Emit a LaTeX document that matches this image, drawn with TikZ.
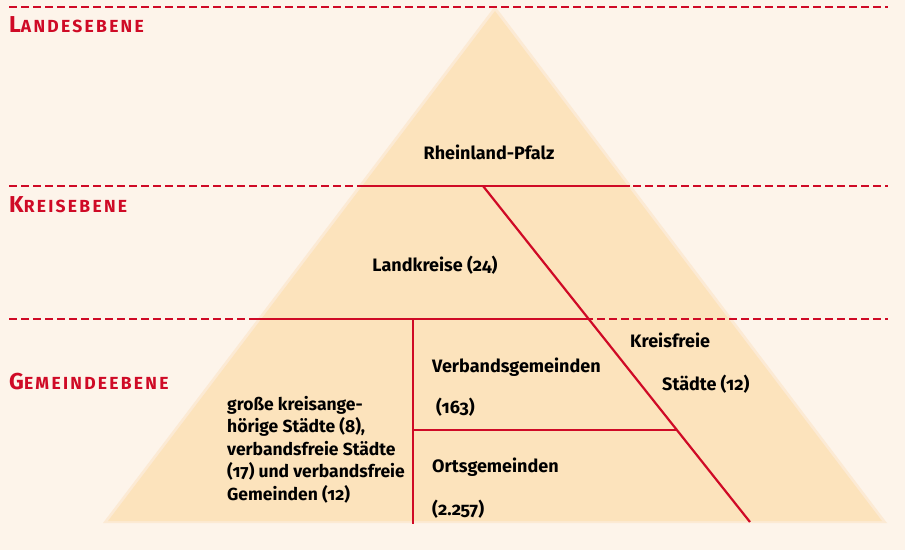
\documentclass[tikz,border=0pt]{standalone}
\usepackage{fontspec}
\setmainfont{Fira Sans}[Numbers=OldStyle]
\newfontfamily\headfont{Fira Sans}[LetterSpace=13]
\definecolor{bgc}{HTML}{FDF4EA}
\definecolor{pyr}{HTML}{FCE3BC}
\definecolor{pyrglow}{HTML}{FCEAD4}
\definecolor{redc}{HTML}{CF0A26}
\newcommand{\fakesc}[2]{{\headfont\bfseries\fontsize{23}{25}\selectfont #1}{\headfont\bfseries\fontsize{17.5}{20}\selectfont #2}}
\begin{document}
\begin{tikzpicture}[x=1pt,y=-1pt,
  dashline/.style={draw=redc,line width=2.2pt,dash pattern=on 8pt off 4pt},
  solidline/.style={draw=redc,line width=2.2pt},
  heading/.style={anchor=base west,inner sep=0pt,text=redc},
  lbl/.style={inner sep=0pt,font=\fontsize{18}{22.5}\selectfont\bfseries,text=black},
  lblw/.style={lbl,anchor=base west}]
\fill[bgc] (0,0) rectangle (905,550);
\useasboundingbox (0,0) rectangle (905,550);
% pyramid
\fill[pyrglow] (495,6) -- (887,523) -- (103,523) -- cycle;
\fill[pyr] (495,11) -- (882,521) -- (108,521) -- cycle;
% dashed level lines
\coordinate (d1l) at (9,7);   \coordinate (d1r) at (888,7);
\coordinate (d2l) at (9,186); \coordinate (d2r) at (888,186);
\coordinate (d3l) at (9,319); \coordinate (d3r) at (888,319);
\draw[dashline] (d1l) -- (d1r);
\draw[dashline] (d2l) -- (d2r);
\draw[dashline] (d3l) -- (d3r);
% solid dividers
\coordinate (s2l) at (357,186); \coordinate (s2r) at (630,186);
\coordinate (s3l) at (250,319);
\coordinate (dtop) at (483,186); \coordinate (dbot) at (750,522);
\coordinate (dmid) at (588.7,319);
\coordinate (dlow) at (677,430);
\coordinate (vtop) at (413,319); \coordinate (vmid) at (413,430); \coordinate (vbot) at (413,524);
\draw[solidline] (s2l) -- (s2r);
\draw[solidline] (s3l) -- (dmid);
\draw[solidline] (dtop) -- (dbot);
\draw[solidline] (vtop) -- (vbot);
\draw[solidline] (vmid) -- (dlow);
% headings
\node[heading] (h1) at (9,32) {\fakesc{L}{ANDESEBENE}};
\node[heading] (h2) at (9,212) {\fakesc{K}{REISEBENE}};
\node[heading] (h3) at (9,389) {\fakesc{G}{EMEINDEEBENE}};
% labels
\node[lbl] (rp) at (489,152) {Rheinland-Pfalz};
\node[lbl] (lk) at (435,265) {Landkreise (24)};
\node[lblw] (vg) at (432,372) {Verbandsgemeinden};
\node[lblw] (vgn) at (436,413) {(163)};
\node[lblw] (kf) at (630,347) {Kreisfreie};
\node[lblw] (kfs) at (662,390) {Städte (12)};
\node[lblw] (og) at (432,472) {Ortsgemeinden};
\node[lblw] (ogn) at (432,515) {(2.257)};
\node[lbl,anchor=north west,align=left,font=\fontsize{17.5}{22.5}\selectfont\bfseries] (gr) at (227,396) {große kreisange-\\hörige Städte (8),\\verbandsfreie Städte\\(17) und verbandsfreie\\Gemeinden (12)};
\end{tikzpicture}
\end{document}
